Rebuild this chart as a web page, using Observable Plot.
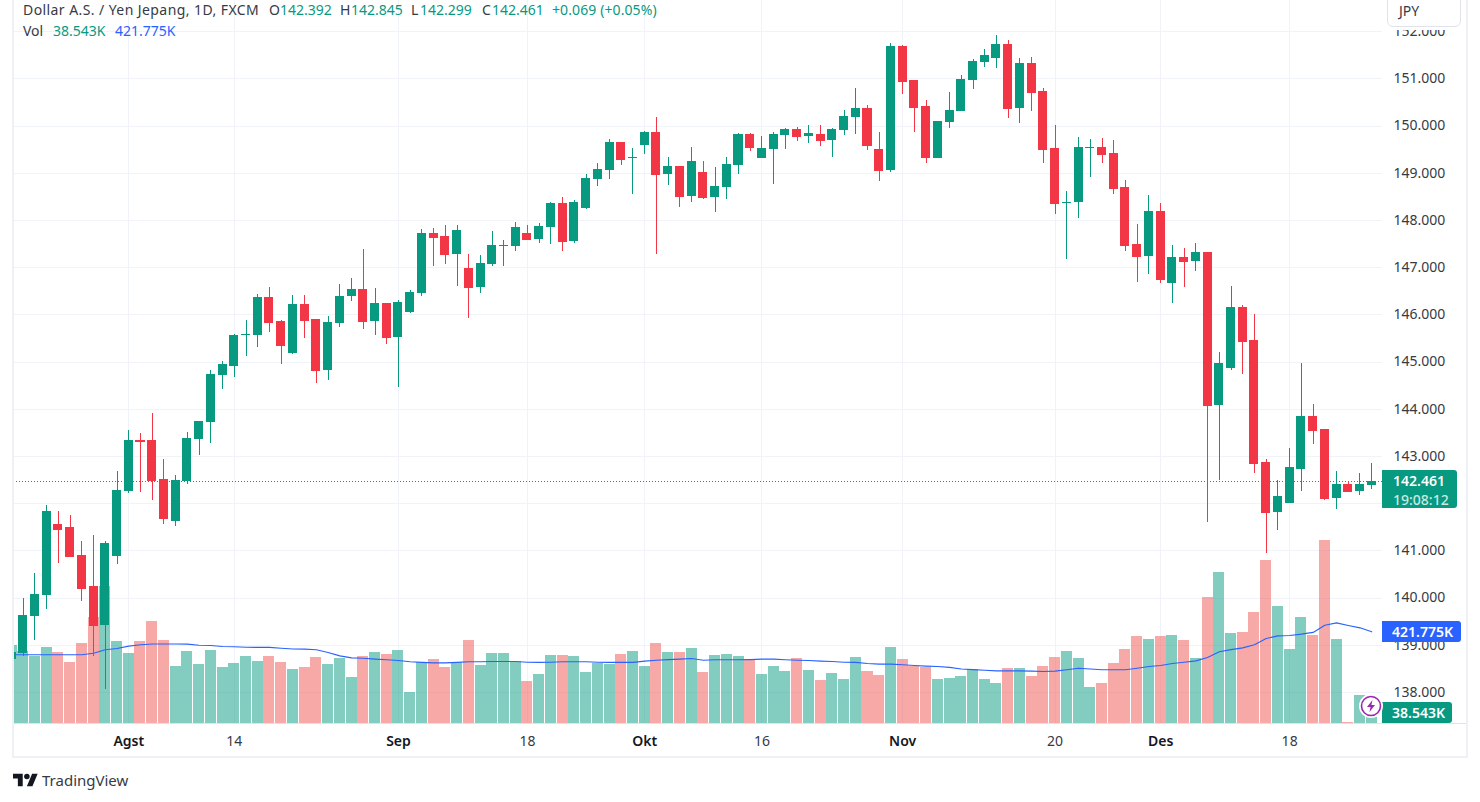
<!DOCTYPE html>
<html><head><meta charset="utf-8">
<script src="https://cdn.jsdelivr.net/npm/d3@7"></script>
<script src="https://cdn.jsdelivr.net/npm/@observablehq/plot@0.6"></script>
<style>
html,body{margin:0;padding:0;background:#fff;width:1480px;height:802px;overflow:hidden;font-family:"Noto Sans",sans-serif;color:#363A45}
#wrap{position:relative;width:1480px;height:802px}
#wrap svg.plot{display:block;position:absolute;left:0;top:0}
.t{position:absolute;white-space:pre;font-size:14px;line-height:20px}
.box{position:absolute;color:#fff;font-size:14px;font-weight:600;text-align:left;box-sizing:border-box;white-space:pre}
.line{position:absolute;background:#EEF0F6}
</style></head><body><div id="wrap"></div>
<script>
const open=[138.69,138.82,139.60,140.05,141.55,141.49,140.89,140.24,139.41,140.87,142.25,143.33,143.33,142.52,141.63,142.46,143.35,143.71,144.71,144.91,145.56,145.56,146.37,145.86,145.18,146.22,145.90,144.82,145.82,146.39,146.54,145.86,146.24,145.52,146.05,146.45,147.72,147.66,147.28,146.98,146.58,147.07,147.44,147.45,147.72,147.60,147.85,148.36,147.55,148.25,148.87,149.06,149.65,149.31,149.59,149.86,148.97,149.14,148.51,149.02,148.49,148.70,149.16,149.82,149.31,149.50,149.80,149.93,149.78,149.82,149.69,149.91,150.18,150.37,149.50,149.06,151.69,150.96,150.41,149.31,150.07,150.31,150.96,151.35,151.43,151.73,150.37,151.32,150.73,149.52,148.35,148.38,149.52,149.55,149.42,148.70,147.49,147.24,148.19,146.66,147.21,147.13,147.31,144.07,144.87,146.15,145.45,142.88,141.82,142.01,142.73,143.84,143.56,142.10,142.40,142.25,142.392];
const high=[138.95,140.00,140.51,141.95,141.83,141.74,141.19,141.32,141.19,142.69,143.54,143.48,143.90,142.93,142.59,143.50,143.75,144.82,145.01,145.58,145.88,146.43,146.58,145.88,146.41,146.41,145.90,145.96,146.64,146.77,147.38,146.56,146.24,146.30,146.52,147.81,147.83,147.89,147.89,147.28,147.26,147.77,147.58,147.96,147.89,147.94,148.38,148.49,148.42,148.97,149.21,149.71,149.65,149.52,149.88,150.18,149.33,149.14,149.55,149.25,149.12,149.33,149.84,149.84,149.78,149.86,149.95,149.97,150.01,150.01,149.95,150.33,150.80,150.44,149.86,151.75,151.71,150.96,150.54,150.10,150.71,151.07,151.41,151.62,151.92,151.81,151.43,151.45,150.80,150.01,148.61,149.76,149.71,149.74,149.69,148.85,147.91,148.53,148.36,147.47,147.41,147.51,147.31,145.21,146.59,146.19,146.00,142.93,142.48,143.16,144.96,144.11,143.58,142.67,142.44,142.63,142.845];
const low=[138.60,138.77,139.11,139.75,140.74,140.85,139.92,138.77,138.07,140.70,142.21,142.23,142.06,141.55,141.51,142.40,143.01,143.27,144.42,144.67,145.12,145.31,145.63,144.95,145.16,145.50,144.55,144.61,145.73,146.28,145.69,145.56,145.37,144.47,146.03,146.39,147.02,147.07,146.60,145.92,146.45,147.02,147.02,147.34,147.57,147.51,147.49,147.34,147.51,148.23,148.72,148.87,149.16,148.55,149.40,147.28,148.74,148.27,148.38,148.44,148.17,148.44,148.97,149.46,149.31,148.76,149.50,149.67,149.63,149.57,149.33,149.80,149.82,149.48,148.83,149.02,150.67,149.86,149.21,149.31,149.95,150.31,150.77,151.24,151.22,150.16,150.05,150.31,149.21,148.13,147.17,148.04,148.91,149.21,148.55,147.34,146.68,146.85,146.66,146.24,146.58,146.92,141.61,142.50,144.81,144.73,142.63,140.95,141.44,142.01,142.25,143.26,142.06,141.87,142.25,142.18,142.299];
const close=[138.84,139.62,140.07,141.83,141.46,140.87,140.21,139.41,141.15,142.27,143.33,143.31,142.50,141.68,142.48,143.37,143.73,144.74,144.95,145.56,145.58,146.37,145.84,145.35,146.22,145.88,144.82,145.84,146.39,146.54,145.86,146.24,145.52,146.26,146.47,147.72,147.64,147.28,147.79,146.58,147.09,147.47,147.46,147.85,147.60,147.87,148.36,147.55,148.38,148.89,149.08,149.65,149.29,149.33,149.86,148.97,149.14,148.51,149.25,148.49,148.72,149.19,149.82,149.55,149.52,149.82,149.93,149.78,149.84,149.69,149.93,150.20,150.37,149.59,149.06,151.69,150.94,150.39,149.33,150.10,150.33,150.99,151.37,151.49,151.73,150.37,151.32,150.71,149.50,148.36,148.38,149.55,149.54,149.40,148.68,147.47,147.24,148.19,146.75,147.21,147.13,147.32,144.07,144.96,146.15,145.43,142.86,141.82,142.14,142.76,143.84,143.54,142.10,142.40,142.25,142.40,142.461];
const volume=[357,330,307,348,325,279,366,486,629,376,320,376,468,380,261,330,270,334,256,274,307,284,307,279,247,256,302,270,297,210,307,325,316,334,141,279,293,256,279,380,265,320,320,284,192,224,311,311,307,233,274,270,316,330,261,366,325,325,343,233,311,316,307,293,224,261,238,297,242,196,228,201,302,238,219,348,293,264,256,201,205,215,247,201,182,251,251,215,261,302,330,297,164,182,274,339,399,385,399,403,380,297,578,693,412,417,509,748,537,339,486,403,840,385,3,127,38.543];
const volumeMA=[316,316,316,316,316,316,316,323,339,345,356,362,366,366,366,365,360,359,354,353,351,350,350,346,343,342,339,327,311,302,300,296,293,290,284,281,279,279,281,284,284,285,285,285,282,281,282,284,284,284,282,281,281,281,287,291,294,296,299,291,293,293,293,294,296,296,293,291,290,287,285,282,281,276,273,273,270,267,264,262,258,251,248,245,242,242,242,241,239,241,247,254,251,247,247,247,254,262,267,276,282,288,304,330,340,348,362,391,403,405,411,419,452,463,451,440,421.775];
const priceTicks=[138,139,140,141,142,143,144,145,146,147,148,149,150,151,152];
const hiddenPriceLabel=142; // its label lies under the last-price tag
const monthTicks=[10,33,54,76,98];
const monthLabels=["Agst","Sep","Okt","Nov","Des"];
const dayTicks=[19,44,64,89,109];
const dayLabels=["14","18","16","20","18"];
const lastPrice=142.461, lastVol=38.543, lastMA=421.775;

const UP="#089981",DOWN="#F23645",VUP="#089981",VDOWN="#EF5350",GRID="#F0F3FA",AXIS="#363A45";
const W=1480,H=802,ML=13,MR=98,FRAME_B=723;
const step=11.726,x0=11;
const xDom=[(ML-x0)/step,(W-MR-x0)/step];
// volume pane shares the chart's y scale: bars rise from its floor to about 3.87 price units at the top value
const volFloor=137.341,volSpan=3.869,volMax=840;
const volY=v=>volFloor+v/volMax*volSpan;
const rows=open.map((o,i)=>({k:i,open:o,high:high[i],low:low[i],close:close[i],vol:volume[i],ma:volumeMA[i],up:close[i]>=o}));
const crisp={shapeRendering:"crispEdges"};
const plot=Plot.plot({
  width:W,height:H,marginLeft:ML,marginRight:MR,marginTop:0,marginBottom:H-FRAME_B,
  style:{fontFamily:'"Noto Sans",sans-serif',fontSize:"14px",color:AXIS,background:"transparent",overflow:"visible"},
  x:{type:"linear",domain:xDom},
  y:{type:"linear",domain:[138,151],range:[691.9,78.3]},
  marks:[
    Plot.ruleY(priceTicks,{stroke:GRID,strokeWidth:1,...crisp}),
    Plot.ruleX([...monthTicks,...dayTicks],{stroke:GRID,strokeWidth:1,...crisp}),
    Plot.rect(rows,{x1:d=>d.k-0.47,x2:d=>d.k+0.47,y1:()=>volFloor,y2:d=>volY(d.vol),fill:d=>d.up?VUP:VDOWN,fillOpacity:0.5,clip:true,...crisp}),
    Plot.line(rows,{x:"k",y:d=>volY(d.ma),stroke:"#2962FF",strokeWidth:1.1,clip:true}),
    Plot.ruleY([lastPrice],{stroke:UP,strokeWidth:1,strokeDasharray:"1 2",...crisp}),
    Plot.ruleX(rows,{x:"k",y1:"low",y2:"high",stroke:d=>d.up?UP:DOWN,strokeWidth:1,clip:true,...crisp}),
    Plot.rect(rows,{x1:d=>d.k-0.385,x2:d=>d.k+0.385,y1:"open",y2:"close",fill:d=>d.up?UP:DOWN,clip:true,...crisp}),
    Plot.ruleY(rows,{x1:d=>d.k-0.385,x2:d=>d.k+0.385,y:"close",stroke:d=>d.up?UP:DOWN,strokeWidth:1,clip:true,...crisp}),
    Plot.axisY(priceTicks.filter(p=>p!==hiddenPriceLabel),{anchor:"right",tickSize:0,tickPadding:11,textAnchor:"start",tickFormat:d3.format(".3f"),label:null,fill:AXIS,fontSize:14}),
    Plot.axisX(dayTicks,{anchor:"bottom",tickSize:0,tickPadding:13,tickFormat:k=>dayLabels[dayTicks.indexOf(k)],label:null,fill:AXIS,fontSize:14}),
    Plot.axisX(monthTicks,{anchor:"bottom",tickSize:0,tickPadding:13,tickFormat:k=>monthLabels[monthTicks.indexOf(k)],label:null,fill:"#131722",fontWeight:600,fontSize:14})
  ]
});
const wrap=document.getElementById("wrap");
wrap.append(plot);
plot.classList.add("plot");
const yS=p=>plot.scale("y").apply(p);
const add=(cls,css,txt,color)=>{const e=document.createElement("div");e.className=cls;e.style.cssText=css;if(txt)e.textContent=txt;if(color)e.style.color=color;wrap.append(e);return e;};
// chart frame
add("line","left:12px;top:0;width:2px;height:758px");
add("line","left:1466px;top:0;width:2px;height:758px");
add("line","left:12px;top:756px;width:1456px;height:2px");
add("line","left:14px;top:723px;width:1452px;height:1px;background:#E0E3EB");
// header
const row1=[[23,"Dollar A.S. / Yen Jepang, 1D, FXCM","#363A45",.42],[269,"O","#363A45",0],[280,"142.392",UP,0],[340,"H","#363A45",0],[351,"142.845",UP,0],[411,"L","#363A45",0],[420,"142.299",UP,0],[482,"C","#363A45",0],[492,"142.461",UP,0],[552,"+0.069 (+0.05%)",UP,.1]];
row1.forEach(([x,s,c,ls])=>add("t",`left:${x}px;top:0px;letter-spacing:${ls}px`,s,c));
[[23,"Vol","#363A45"],[53,"38.543K",UP],[115,"421.775K","#2962FF"]].forEach(([x,s,c])=>add("t",`left:${x}px;top:21px`,s,c));
// currency box
add("t","left:1383px;top:0;width:82px;height:30px;background:#fff");
add("t","left:1387px;top:-8px;width:74px;height:35px;background:#fff;border:1px solid #E0E3EB;border-radius:6px;box-sizing:border-box;padding:8px 0 0 11px;line-height:20px;","JPY");
// price labels
const py=yS(lastPrice);
const pb=add("box",`left:1382px;top:${py-11}px;width:75px;height:38px;background:${UP};border-radius:0 3px 3px 0;padding:1px 0 0 11px;line-height:20px`);
pb.append("142.461");
const cd=document.createElement("div");cd.textContent="19:08:12";cd.style.cssText="color:#C8E8E1;font-weight:500;line-height:17px";pb.append(cd);
const my=yS(volY(lastMA));
add("box",`left:1382px;top:${my-10.5}px;width:79px;height:21px;line-height:21px;background:#2962FF;border-radius:0 3px 3px 0;padding-left:10px`,"421.775K");
add("box",`left:1382px;top:702px;width:70px;height:21px;line-height:21px;background:${UP};border-radius:0 3px 3px 0;padding-left:10px`,"38.543K");
// lightning icon
const ns="http://www.w3.org/2000/svg";
const icon=document.createElementNS(ns,"svg");icon.setAttribute("width","24");icon.setAttribute("height","24");icon.setAttribute("viewBox","0 0 24 24");icon.style.cssText="position:absolute;left:1359px;top:694px";
icon.innerHTML='<circle cx="12" cy="12" r="11" fill="#fff" stroke="#fff" stroke-width="2"/><circle cx="12" cy="12" r="9.5" fill="#fff" stroke="#9C27B0" stroke-width="1.6"/><path d="M13.5 6 8 13h3.5l-1 5L16 11h-3.6z" fill="#9C27B0"/>';
wrap.append(icon);
// logo
const logo=document.createElementNS(ns,"svg");logo.setAttribute("width","25");logo.setAttribute("height","14");logo.setAttribute("viewBox","0 3 36 20");logo.style.cssText="position:absolute;left:13px;top:773px";
logo.innerHTML='<path d="M14 22H7V11H0V4h14v18zM28 22h-8l7.5-18h8L28 22z" fill="#131722"/><circle cx="20" cy="8" r="4" fill="#131722"/>';
wrap.append(logo);
add("t","left:42px;top:770px;font-size:15px","TradingView");
</script></body></html>
